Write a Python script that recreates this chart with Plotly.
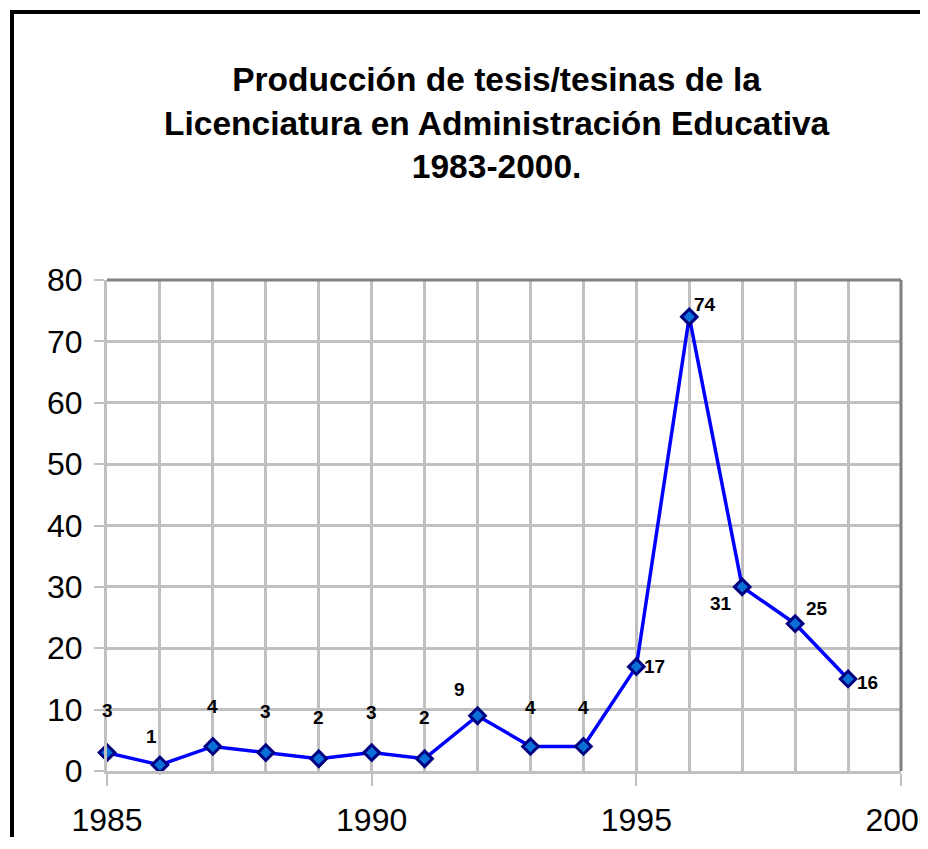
import plotly.graph_objects as go

# Data
years = [1985, 1986, 1987, 1988, 1989, 1990, 1991, 1992, 1993, 1994, 1995, 1996, 1997, 1998, 1999]
values = [3, 1, 4, 3, 2, 3, 2, 9, 4, 4, 17, 74, 30, 24, 15]
value_labels = ["3", "1", "4", "3", "2", "3", "2", "9", "4", "4", "17", "74", "31", "25", "16"]
x_ticks = [1985, 1990, 1995, 2000]
y_ticks = [0, 10, 20, 30, 40, 50, 60, 70, 80]
title_lines = ["Producción de tesis/tesinas de la",
               "Licenciatura en Administración Educativa",
               "1983-2000."]

# label offsets in pixels (styling)
label_dx = [0, -8, 0, 0, 0, 0, 0, -18, 0, 0, 18, 16, -21, 22, 19]
label_dy = [42, 28, 40, 41, 41, 40, 41, 26, 39, 39, 0, 12, -17, 15, -4]

FONT = "Liberation Sans, Arial, sans-serif"

# page body has an 8px default margin; work in page coordinates
OFF = 8
W, H = 928 - OFF, 849 - 2 * OFF - 4
PX0, PX1, PY0, PY1 = 107, 901, 280, 771   # plot area in page pixels
L, T = PX0 - OFF, PY0 - OFF
pw, ph = PX1 - PX0, PY1 - PY0
R, B = W - L - pw, H - T - ph


def px_to_paper_x(px):
    return (px - PX0) / pw


def px_to_paper_y(py):
    return (PY1 - py) / ph


fig = go.Figure()
fig.add_trace(go.Scatter(
    x=years, y=values, mode="lines+markers",
    line=dict(color="#0000ff", width=3.5),
    marker=dict(symbol="diamond", size=12, color="#0a6fd6",
                line=dict(color="#000080", width=3)),
    cliponaxis=False, showlegend=False, hoverinfo="x+y",
))

for x, y, t, dx, dy in zip(years, values, value_labels, label_dx, label_dy):
    fig.add_annotation(x=x, y=y, text=t, showarrow=False, xshift=dx, yshift=dy,
                       font=dict(family=FONT, size=19, color="black", weight="bold"))

# title block
fig.add_annotation(
    text="<br>".join(title_lines), showarrow=False,
    xref="paper", yref="paper", x=px_to_paper_x(497), y=px_to_paper_y(123),
    xanchor="center", yanchor="middle", align="center",
    font=dict(family=FONT, size=33.5, color="black", weight="bold"),
)

fig.update_layout(
    width=W, height=H,
    margin=dict(l=L, r=R, t=T, b=B, autoexpand=False),
    paper_bgcolor="white", plot_bgcolor="white",
    xaxis=dict(
        range=[1985, 2000], tickvals=x_ticks, ticktext=[str(v) for v in x_ticks],
        showgrid=True, gridcolor="#c0c0c0", gridwidth=3,
        minor=dict(dtick=1, tick0=1985, showgrid=True, gridcolor="#c0c0c0", gridwidth=3),
        showline=True, linecolor="#c0c0c0", linewidth=3,
        ticks="outside", ticklen=12, tickwidth=2, tickcolor="#c0c0c0",
        tickfont=dict(family=FONT, size=32, color="black"),
        ticklabelstandoff=7, ticklabeloverflow="allow",
        zeroline=False, fixedrange=True,
    ),
    yaxis=dict(
        range=[0, 80], tickvals=y_ticks,
        showgrid=True, gridcolor="#c0c0c0", gridwidth=3,
        showline=True, linecolor="#c0c0c0", linewidth=3,
        ticks="outside", ticklen=10, tickwidth=2, tickcolor="#c0c0c0",
        tickfont=dict(family=FONT, size=32, color="black"),
        ticklabelstandoff=5, ticklabeloverflow="allow",
        zeroline=False, fixedrange=True,
    ),
    shapes=[
        # plot-area border (top and right in dark gray)
        dict(type="line", xref="paper", yref="paper", x0=0, x1=1, y0=1, y1=1,
             line=dict(color="#808080", width=3)),
        dict(type="line", xref="paper", yref="paper", x0=1, x1=1, y0=0, y1=1,
             line=dict(color="#808080", width=3)),
        # chart border: left and top edges (the rest lies beyond the page)
        dict(type="line", xref="paper", yref="paper",
             x0=px_to_paper_x(10), x1=px_to_paper_x(1100),
             y0=px_to_paper_y(12), y1=px_to_paper_y(12),
             line=dict(color="black", width=4)),
        dict(type="line", xref="paper", yref="paper",
             x0=px_to_paper_x(12), x1=px_to_paper_x(12),
             y0=px_to_paper_y(1100), y1=px_to_paper_y(10),
             line=dict(color="black", width=4)),
    ],
)

fig.write_html("out.html")
